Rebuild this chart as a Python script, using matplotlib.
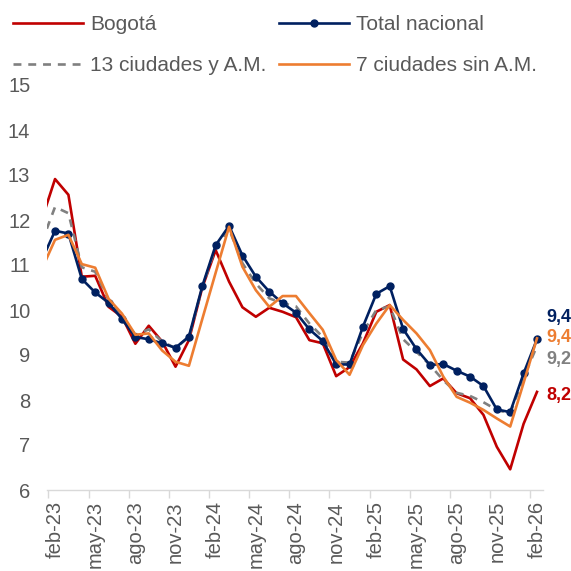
import matplotlib
matplotlib.use("Agg")
import matplotlib.pyplot as plt
import numpy as np

plt.rcParams['font.family'] = ['Liberation Sans', 'DejaVu Sans']

# months: ene-23 .. feb-26 (ene-23 sits just outside the left edge)
months = ['ene-23', 'feb-23', 'mar-23', 'abr-23', 'may-23', 'jun-23', 'jul-23', 'ago-23',
          'sep-23', 'oct-23', 'nov-23', 'dic-23', 'ene-24', 'feb-24', 'mar-24', 'abr-24',
          'may-24', 'jun-24', 'jul-24', 'ago-24', 'sep-24', 'oct-24', 'nov-24', 'dic-24',
          'ene-25', 'feb-25', 'mar-25', 'abr-25', 'may-25', 'jun-25', 'jul-25', 'ago-25',
          'sep-25', 'oct-25', 'nov-25', 'dic-25', 'ene-26', 'feb-26']

bogota = [12.0, 12.91, 12.56, 10.74, 10.76, 10.07, 9.85, 9.25, 9.65, 9.30, 8.74, 9.33,
          10.50, 11.33, 10.63, 10.06, 9.85, 10.05, 9.96, 9.84, 9.33, 9.26, 8.53, 8.73,
          9.26, 9.96, 10.11, 8.90, 8.68, 8.31, 8.48, 8.15, 8.04, 7.67, 6.96, 6.46, 7.47, 8.18]

total_nacional = [11.1, 11.76, 11.70, 10.69, 10.39, 10.16, 9.80, 9.40, 9.35, 9.26, 9.16, 9.41,
                  10.53, 11.44, 11.87, 11.21, 10.74, 10.41, 10.15, 9.94, 9.57, 9.31, 8.79, 8.79,
                  9.63, 10.36, 10.53, 9.58, 9.13, 8.78, 8.80, 8.65, 8.52, 8.31, 7.79, 7.73, 8.59, 9.35]

ciudades13 = [11.5, 12.29, 12.15, 10.95, 10.85, 10.22, 9.85, 9.45, 9.57, 9.30, 9.15, 9.40,
              10.50, 11.40, 11.80, 11.04, 10.59, 10.26, 10.15, 10.08, 9.70, 9.40, 8.85, 8.83,
              9.50, 10.00, 10.08, 9.35, 9.07, 8.78, 8.44, 8.16, 8.09, 7.95, 7.78, 7.70, 8.50, 9.20]

ciudades7 = [10.9, 11.56, 11.67, 11.02, 10.94, 10.25, 9.92, 9.45, 9.48, 9.10, 8.85, 8.76,
             9.80, 10.83, 11.85, 10.96, 10.44, 10.07, 10.31, 10.31, 9.93, 9.56, 8.89, 8.56,
             9.22, 9.70, 10.11, 9.78, 9.48, 9.11, 8.52, 8.07, 7.94, 7.78, 7.59, 7.41, 8.38, 9.37]

last_labels = ['9,4', '9,4', '9,2', '8,2']

red = '#C00000'
navy = '#002060'
gray = '#808080'
orange = '#ED7D31'
txt = '#595959'

x = np.arange(len(months)) - 1   # feb-23 -> 0

fig = plt.figure(figsize=(5.71, 5.71), dpi=100)
ax = fig.add_axes([47 / 571, 1 - 490 / 571, 496 / 571, 405 / 571])

l1, = ax.plot(x, bogota, color=red, lw=1.9, label='Bogotá')
l3, = ax.plot(x, ciudades13, color=gray, lw=1.9, dashes=(3.0, 2.6), label='13 ciudades y A.M.')
l2, = ax.plot(x, total_nacional, color=navy, lw=1.9, marker='o', ms=5, label='Total nacional')
l4, = ax.plot(x, ciudades7, color=orange, lw=1.9, label='7 ciudades sin A.M.')

ax.set_xlim(-0.6, 36.45)
ax.set_ylim(6, 15)
ax.set_yticks(range(6, 16))
ax.tick_params(axis='y', length=0, labelsize=14.5, labelcolor=txt, pad=12)

ticks = list(range(0, 37, 3))
ax.set_xticks(ticks)
ax.set_xticklabels([months[t + 1] for t in ticks], rotation=90)
ax.set_xticks([t - 0.5 for t in ticks], minor=True)
ax.tick_params(axis='x', which='major', length=0, labelsize=14.5, labelcolor=txt, pad=8)
ax.tick_params(axis='x', which='minor', length=6, color='#D9D9D9', width=1)

for s in ['top', 'right', 'left']:
    ax.spines[s].set_visible(False)
ax.spines['bottom'].set_color('#D9D9D9')
ax.spines['bottom'].set_linewidth(1)

# end labels
label_y = [9.84, 9.38, 8.91, 8.11]
label_c = [navy, orange, gray, red]
for t, yy, c in zip(last_labels, label_y, label_c):
    ax.text(36.67, yy, t, color=c, fontsize=13, fontweight='bold', va='center', ha='left')

fig.legend(handles=[l1, l3, l2, l4], ncol=2, loc='upper left',
           bbox_to_anchor=(13 / 571, 1 - 15 / 571), frameon=False, fontsize=15,
           handlelength=3.35, handletextpad=0.34, columnspacing=0.62, labelspacing=1.06,
           borderpad=0, borderaxespad=0, labelcolor=txt)

fig.savefig('out.png', dpi=100)
